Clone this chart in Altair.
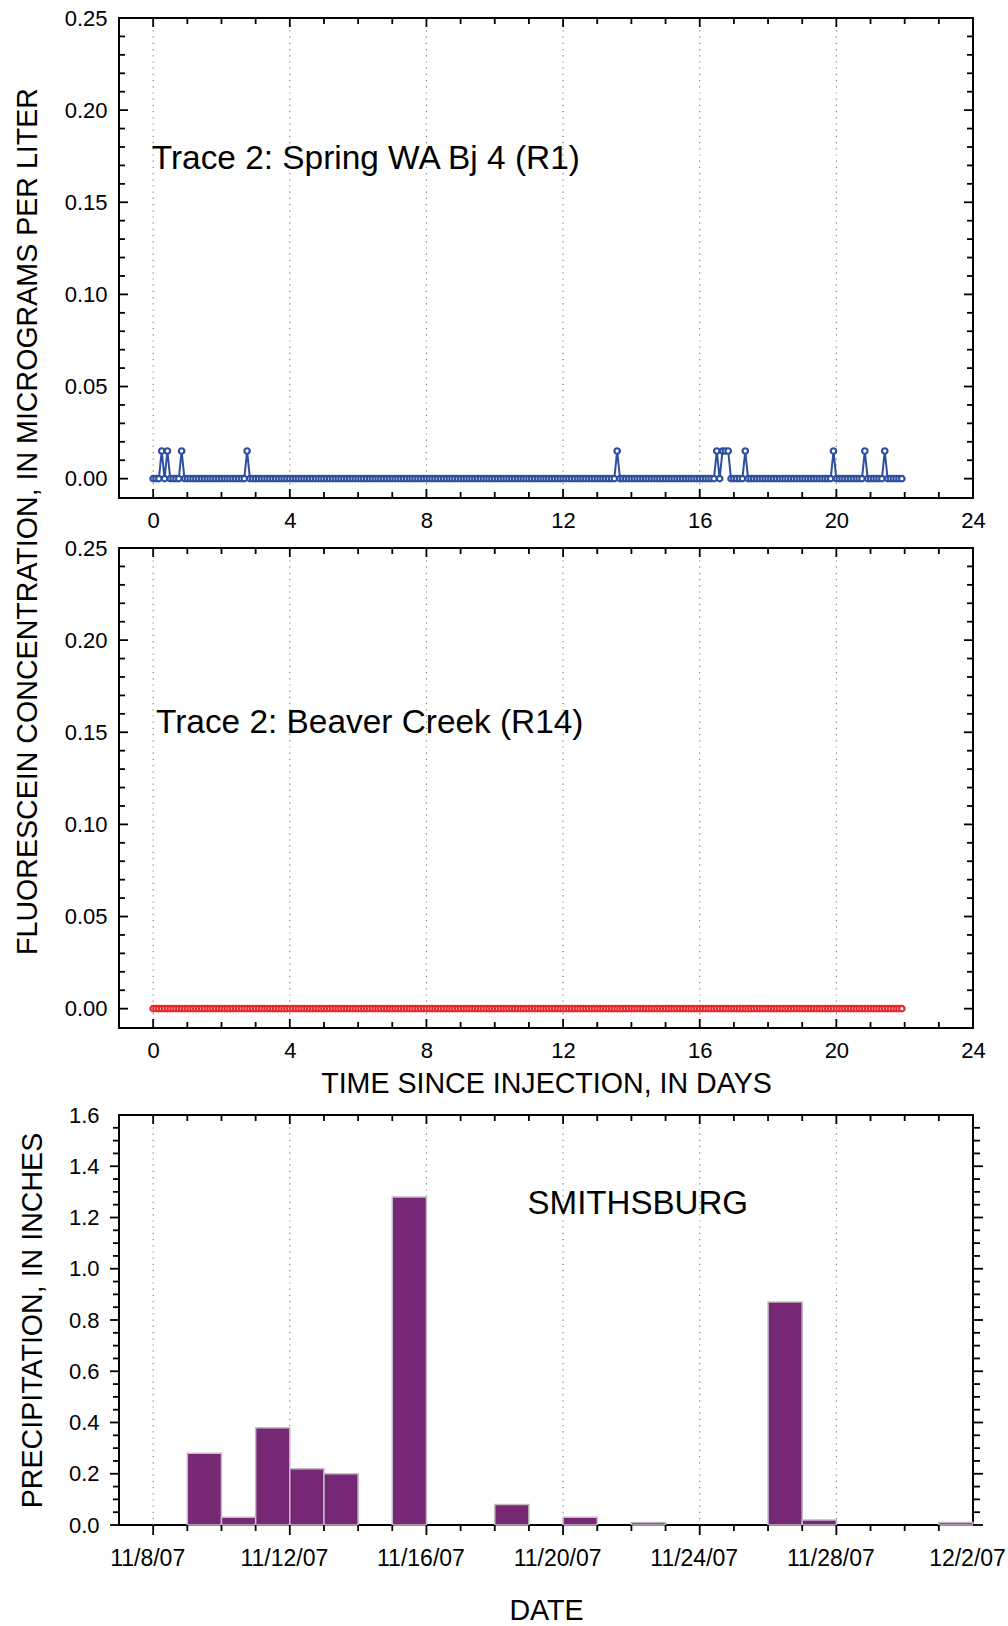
import altair as alt
import numpy as np
import pandas as pd

# ---------------------------------------------------------------------------
# Fluorescein sampling (Trace 2): automatic samples every 2 hours after
# injection. Only the samples with detectable dye are listed; all others are 0.
# ---------------------------------------------------------------------------
SAMPLE_INTERVAL_HOURS = 2
LAST_SAMPLE_DAY = 21.92

R1_DETECT_DAYS = [0.25, 0.42, 0.83, 2.75, 13.58, 16.50, 16.67, 16.75, 16.83,
                  17.33, 19.92, 20.83, 21.42]
R1_DETECT_CONC = [0.015, 0.015, 0.015, 0.015, 0.015, 0.015, 0.015, 0.015,
                  0.015, 0.015, 0.015, 0.015, 0.015]

R14_DETECT_DAYS = []
R14_DETECT_CONC = []

# Smithsburg daily precipitation, inches
INJECTION_DATE = "2007-11-08"
PRECIP_DATES = ["2007-11-09", "2007-11-10", "2007-11-11", "2007-11-12",
                "2007-11-13", "2007-11-15", "2007-11-18", "2007-11-20",
                "2007-11-22", "2007-11-26", "2007-11-27", "2007-12-01"]
PRECIP_IN = [0.28, 0.03, 0.38, 0.22, 0.20, 1.28, 0.08, 0.03, 0.01, 0.87,
             0.02, 0.01]

# Axis tick positions
DAY_LABELS = [0, 4, 8, 12, 16, 20, 24]
DATE_LABELS = ["11/8/07", "11/12/07", "11/16/07", "11/20/07", "11/24/07",
               "11/28/07", "12/2/07"]
DAY_GRID = [0, 4, 8, 12, 16, 20]
DAY_MINOR = [d for d in range(1, 24) if d % 4]
CONC_LABELS = [0.00, 0.05, 0.10, 0.15, 0.20, 0.25]
CONC_MINOR = [round(i * 0.01, 2) for i in range(1, 25) if i % 5]
PRECIP_LABELS = [round(i * 0.2, 1) for i in range(0, 9)]
PRECIP_MINOR = [round(i * 0.05, 2) for i in range(1, 32) if i % 4]

BLUE = "#2e4f9f"
RED = "#e8282c"
PURPLE = "#762875"
FONT = "Liberation Sans"

W = 854
H_TRACE = 480
H_PRECIP = 410

day_scale = alt.Scale(domain=[-1, 24], nice=False, zero=False)
conc_scale = alt.Scale(domain=[-0.0105, 0.25], nice=False, zero=False)
precip_scale = alt.Scale(domain=[0, 1.6], nice=False, zero=False)

AXIS_STYLE = dict(domain=False, ticks=False, grid=False, labelFont=FONT,
                  labelFontSize=22, labelColor="black", titleFont=FONT,
                  titleFontSize=28.6, titleFontWeight="normal",
                  titleColor="black", labelOverlap=False, labelFlush=False)


def sample_table(detect_days, detect_conc):
    n = int(round(LAST_SAMPLE_DAY * 24 / SAMPLE_INTERVAL_HOURS))
    t = np.arange(n + 1) * SAMPLE_INTERVAL_HOURS / 24.0
    c = np.zeros_like(t)
    for d, v in zip(detect_days, detect_conc):
        c[int(np.argmin(np.abs(t - d)))] = v
    return pd.DataFrame({"day": t, "conc": c})


class Frame:
    """Scales and axes shared by every layer of one panel."""

    def __init__(self, xscale, yscale, xaxis, yaxis, height):
        self.xs, self.ys, self.xa, self.ya, self.h = (
            xscale, yscale, xaxis, yaxis, height)

    def x(self, field):
        return alt.X(field, scale=self.xs, axis=self.xa)

    def y(self, field):
        return alt.Y(field, scale=self.ys, axis=self.ya)

    def ticks(self, values, orient, length):
        """Tick marks against the frame; positive length points inward."""
        base = alt.Chart(pd.DataFrame({"v": values})).mark_rule(
            color="black", strokeWidth=1.8)
        if orient in ("bottom", "top"):
            enc = {"x": self.x("v:Q")}
            if orient == "bottom":
                enc["y"] = alt.value(self.h)
                enc["y2"] = alt.value(self.h - length)
            else:
                enc["y"] = alt.value(0)
                enc["y2"] = alt.value(length)
        else:
            enc = {"y": self.y("v:Q")}
            if orient == "left":
                enc["x"] = alt.value(0)
                enc["x2"] = alt.value(length)
            else:
                enc["x"] = alt.value(W)
                enc["x2"] = alt.value(W - length)
        return base.encode(**enc)

    def grid(self):
        return alt.Chart(pd.DataFrame({"v": DAY_GRID})).mark_rule(
            color="#777777", strokeWidth=1.1, strokeDash=[1.2, 5]
        ).encode(x=self.x("v:Q"))

    def label(self, x, y, text, size):
        return alt.Chart(
            pd.DataFrame({"lx": [x], "ly": [y], "t": [text]})
        ).mark_text(
            align="left", baseline="middle", fontSize=size, font=FONT,
            color="black"
        ).encode(x=self.x("lx:Q"), y=self.y("ly:Q"), text="t:N")


def trace_panel(df, color, name, label_pos, x_title=None, y_title=None):
    x_axis = alt.Axis(values=DAY_LABELS, format="d", labelPadding=12,
                      title=x_title, titleY=55, titleBaseline="middle",
                      **AXIS_STYLE)
    y_axis = alt.Axis(values=CONC_LABELS, format=".2f", labelPadding=12,
                      title=y_title, titleX=-92, titleY=503, titleAngle=270,
                      titleAlign="center", titleBaseline="middle",
                      **AXIS_STYLE)
    f = Frame(day_scale, conc_scale, x_axis, y_axis, H_TRACE)
    line = alt.Chart(df).mark_line(color=color, strokeWidth=2).encode(
        x=f.x("day:Q"), y=f.y("conc:Q"))
    pts = alt.Chart(df).mark_point(
        shape="circle", filled=True, fill="white", stroke=color,
        strokeWidth=2.2, size=30, opacity=1
    ).encode(x=f.x("day:Q"), y=f.y("conc:Q"))
    ticks = [
        f.ticks(DAY_LABELS[:-1], "bottom", 9),
        f.ticks(DAY_MINOR, "bottom", 6),
        f.ticks(DAY_LABELS[:-1], "top", 9),
        f.ticks(DAY_MINOR, "top", 6),
        f.ticks(CONC_LABELS, "left", 9),
        f.ticks(CONC_MINOR, "left", 6),
        f.ticks(CONC_LABELS, "right", 9),
        f.ticks(CONC_MINOR, "right", 6),
    ]
    return alt.layer(
        f.grid(), line, pts, f.label(*label_pos, name, 33.4), *ticks
    ).properties(width=W, height=H_TRACE)


def spacer(height):
    return alt.Chart(pd.DataFrame({"a": [0]})).mark_point(opacity=0).encode(
        x=alt.X("a:Q", axis=None), y=alt.Y("a:Q", axis=None)
    ).properties(width=W, height=height,
                 view=alt.ViewBackground(stroke="transparent"))


r1 = sample_table(R1_DETECT_DAYS, R1_DETECT_CONC)
r14 = sample_table(R14_DETECT_DAYS, R14_DETECT_CONC)

p1 = trace_panel(r1, BLUE, "Trace 2: Spring WA Bj 4 (R1)", (-0.04, 0.1737),
                 y_title="FLUORESCEIN CONCENTRATION, IN MICROGRAMS PER LITER")
p2 = trace_panel(r14, RED, "Trace 2: Beaver Creek (R14)", (0.085, 0.155),
                 x_title="TIME SINCE INJECTION, IN DAYS")

# Precipitation panel: each bar covers one calendar day
t0 = pd.Timestamp(INJECTION_DATE)
pdates = pd.to_datetime(PRECIP_DATES)
precip = pd.DataFrame({
    "start": (pdates - t0).days.astype(float),
    "precip": PRECIP_IN,
})
precip["end"] = precip["start"] + 1
precip["base"] = 0.0

date_expr = "[%s][round(datum.value / 4)]" % ", ".join(
    "'%s'" % s for s in DATE_LABELS)

date_axis = alt.Axis(values=DAY_LABELS, labelExpr=date_expr,
                     labelPadding=22, labelOffset=-6,
                     title="DATE", titleY=85, titleBaseline="middle",
                     **{**AXIS_STYLE, "labelFontSize": 23})
precip_axis = alt.Axis(values=PRECIP_LABELS, format=".1f", labelPadding=20,
                       title="PRECIPITATION, IN INCHES", titleX=-87,
                       titleAngle=270, titleAlign="center",
                       titleBaseline="middle", **AXIS_STYLE)
f3 = Frame(day_scale, precip_scale, date_axis, precip_axis, H_PRECIP)

bars = alt.Chart(precip).mark_bar(
    fill=PURPLE, stroke="#c4bcc4", strokeWidth=1.5, opacity=1
).encode(x=f3.x("start:Q"), x2="end:Q", y=f3.y("precip:Q"), y2="base:Q")

p3 = alt.layer(
    f3.grid(), bars,
    f3.label(10.96, 1.253, "SMITHSBURG", 33.1),
    f3.ticks(DAY_LABELS[:-1], "bottom", -10),
    f3.ticks(DAY_MINOR, "bottom", -6),
    f3.ticks(DAY_LABELS[:-1], "top", 9),
    f3.ticks(DAY_MINOR, "top", 6),
    f3.ticks(PRECIP_LABELS[:-1], "left", -9),
    f3.ticks(PRECIP_MINOR, "left", -6),
    f3.ticks(PRECIP_LABELS[:-1], "right", -10),
    f3.ticks(PRECIP_MINOR, "right", -7),
).properties(width=W, height=H_PRECIP)

# frame gaps: 50 px between the traces, 87 px above the rainfall panel
chart = alt.vconcat(
    p1, spacer(10), p2, spacer(47), p3, spacing=20, bounds="flush"
).properties(
    padding={"left": 11, "top": 6, "right": 0, "bottom": 5}
).configure(font=FONT).configure_view(
    stroke="black", strokeWidth=2
)

chart.save("out.html", embed_options={"renderer": "svg", "actions": False})
